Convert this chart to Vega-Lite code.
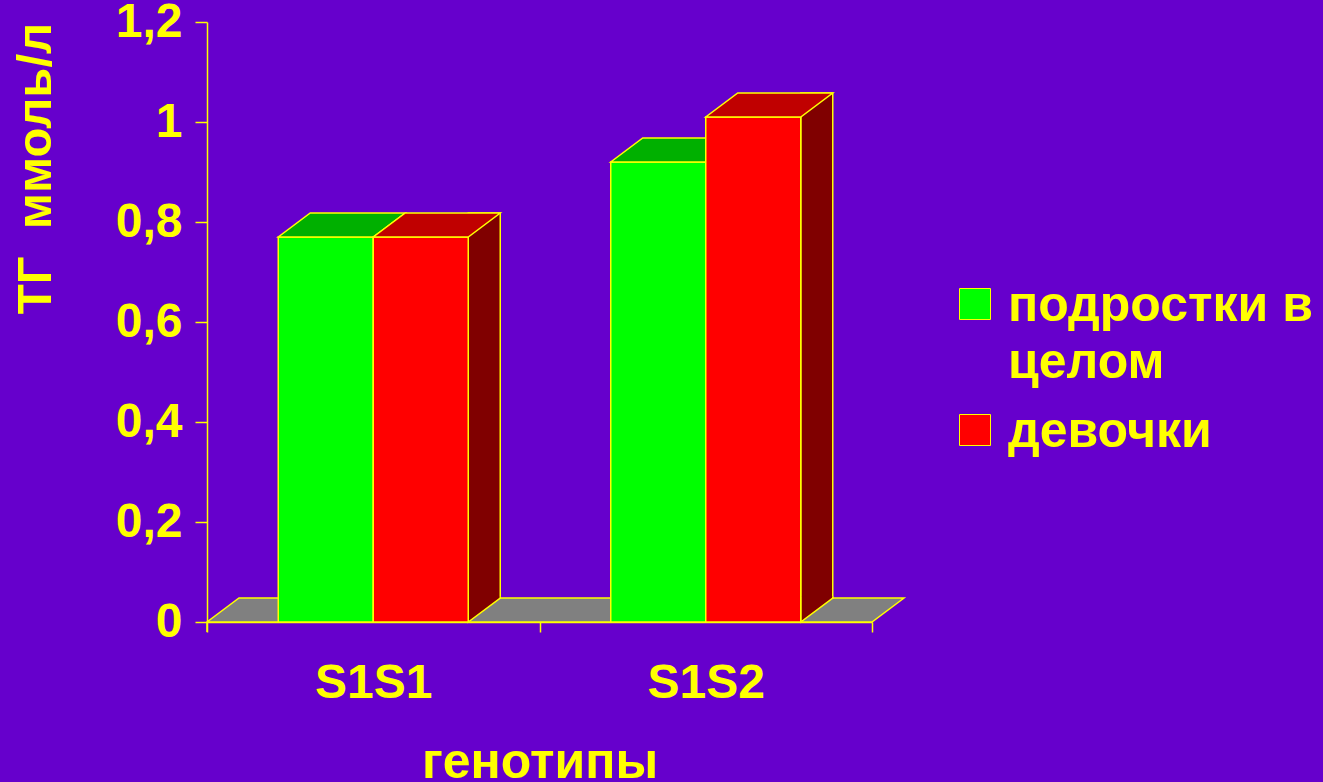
{
  "$schema": "https://vega.github.io/schema/vega-lite/v6.json",
  "width": 665,
  "height": 600,
  "autosize": "none",
  "padding": {"left": 207, "top": 22, "right": 451, "bottom": 160},
  "background": "#6600CC",
  "config": {
    "view": {"stroke": null},
    "font": "Liberation Sans",
    "axis": {
      "grid": false,
      "domainColor": "#FFFF00",
      "domainWidth": 1.5,
      "tickColor": "#FFFF00",
      "tickWidth": 1.5,
      "labelColor": "#FFFF00",
      "labelFont": "Liberation Sans",
      "labelFontWeight": "bold",
      "labelFontSize": 48,
      "titleColor": "#FFFF00",
      "titleFont": "Liberation Sans",
      "titleFontWeight": "bold"
    },
    "legend": {
      "orient": "none",
      "legendX": 743,
      "legendY": 257,
      "padding": 0,
      "title": null,
      "symbolType": "square",
      "symbolSize": 961,
      "symbolStrokeColor": "#FFFF00",
      "symbolStrokeWidth": 1,
      "labelColor": "#FFFF00",
      "labelFont": "Liberation Sans",
      "labelFontWeight": "bold",
      "labelFontSize": 50,
      "labelLimit": 500,
      "labelOffset": 8,
      "labelBaseline": "alphabetic",
      "rowPadding": 17
    }
  },
  "data": {
    "values": [
      {"genotype": "S1S1", "group": "подростки в целом", "value": 0.77},
      {"genotype": "S1S1", "group": "девочки", "value": 0.77},
      {"genotype": "S1S2", "group": "подростки в целом", "value": 0.92},
      {"genotype": "S1S2", "group": "девочки", "value": 1.01}
    ]
  },
  "layer": [
    {
      "data": {"values": [{}]},
      "mark": {
        "type": "point",
        "shape": "M0,0 L665,0 L697,-24 L32,-24 Z M0,0 L0,10",
        "size": 4,
        "filled": true,
        "fill": "#808080",
        "stroke": "#FFFF00",
        "strokeWidth": 1.5,
        "opacity": 1
      },
      "encoding": {
        "x": {"value": 0},
        "y": {"datum": 0, "type": "quantitative"}
      }
    },
    {
      "transform": [{"filter": "datum.group === 'подростки в целом'"}],
      "mark": {"type": "bar", "stroke": "#FFFF00", "strokeWidth": 1.5},
      "encoding": {
        "x": {
          "field": "genotype",
          "type": "nominal",
          "title": "генотипы",
          "scale": {"domain": ["S1S1", "S1S2"], "paddingInner": 0, "paddingOuter": 0},
          "axis": {
            "labelAngle": 0,
            "tickSize": 10,
            "tickBand": "extent",
            "labelPadding": 27,
            "titleFontSize": 50,
            "titleY": 155,
            "titleBaseline": "alphabetic"
          }
        },
        "xOffset": {
          "field": "group",
          "type": "nominal",
          "scale": {"domain": ["подростки в целом", "девочки"], "paddingInner": 0, "paddingOuter": 0.75}
        },
        "y": {
          "field": "value",
          "type": "quantitative",
          "title": "ТГ \u00a0ммоль/л",
          "scale": {"domain": [0, 1.2], "nice": false},
          "axis": {
            "values": [0, 0.2, 0.4, 0.6, 0.8, 1, 1.2],
            "labelExpr": "replace(format(datum.value, '~g'), '.', ',')",
            "tickSize": 12,
            "labelPadding": 13,
            "titleFontSize": 49,
            "titleX": -157,
            "titleY": 146,
            "titleAlign": "center",
            "titleBaseline": "alphabetic"
          }
        },
        "color": {
          "field": "group",
          "type": "nominal",
          "scale": {"domain": ["подростки в целом", "девочки"], "range": ["#00FF00", "#FF0000"]},
          "legend": {
            "labelExpr": "datum.label === 'подростки в целом' ? ['подростки в', 'целом'] : datum.label",
            "encode": {"labels": {"update": {"lineHeight": {"value": 57}, "dy": {"value": 17}}}}
          }
        }
      }
    },
    {
      "transform": [{"filter": "datum.group === 'подростки в целом'"}],
      "mark": {
        "type": "point",
        "shape": "M-47.5,0 L47.5,0 L79.5,-24 L-15.5,-24 Z",
        "size": 4,
        "filled": true,
        "fill": "#00B000",
        "stroke": "#FFFF00",
        "strokeWidth": 1.5,
        "opacity": 1
      },
      "encoding": {
        "x": {"field": "genotype", "type": "nominal"},
        "xOffset": {"field": "group", "type": "nominal"},
        "y": {"field": "value", "type": "quantitative"}
      }
    },
    {
      "transform": [{"filter": "datum.group === 'девочки'"}],
      "mark": {
        "type": "bar",
        "width": 32,
        "xOffset": 111,
        "yOffset": -24,
        "y2Offset": -24,
        "fill": "#800000",
        "stroke": "#FFFF00",
        "strokeWidth": 1.5
      },
      "encoding": {
        "x": {"field": "genotype", "type": "nominal"},
        "y": {"field": "value", "type": "quantitative"},
        "y2": {"datum": 0}
      }
    },
    {
      "transform": [{"filter": "datum.group === 'девочки'"}],
      "mark": {
        "type": "point",
        "shape": "M47.5,-25.5 L47.5,0 L79.5,-24 L79.5,-25.5",
        "size": 4,
        "filled": true,
        "fill": "#800000",
        "stroke": "#FFFF00",
        "strokeWidth": 1.5,
        "opacity": 1
      },
      "encoding": {
        "x": {"field": "genotype", "type": "nominal"},
        "xOffset": {"field": "group", "type": "nominal"},
        "y": {"datum": 0, "type": "quantitative"}
      }
    },
    {
      "transform": [{"filter": "datum.group === 'девочки'"}],
      "mark": {"type": "bar", "stroke": "#FFFF00", "strokeWidth": 1.5},
      "encoding": {
        "x": {"field": "genotype", "type": "nominal"},
        "xOffset": {"field": "group", "type": "nominal"},
        "y": {"field": "value", "type": "quantitative"},
        "color": {"field": "group", "type": "nominal"}
      }
    },
    {
      "transform": [{"filter": "datum.group === 'девочки'"}],
      "mark": {
        "type": "point",
        "shape": "M-47.5,0 L47.5,0 L79.5,-24 L-15.5,-24 Z",
        "size": 4,
        "filled": true,
        "fill": "#C00000",
        "stroke": "#FFFF00",
        "strokeWidth": 1.5,
        "opacity": 1
      },
      "encoding": {
        "x": {"field": "genotype", "type": "nominal"},
        "xOffset": {"field": "group", "type": "nominal"},
        "y": {"field": "value", "type": "quantitative"}
      }
    }
  ]
}
